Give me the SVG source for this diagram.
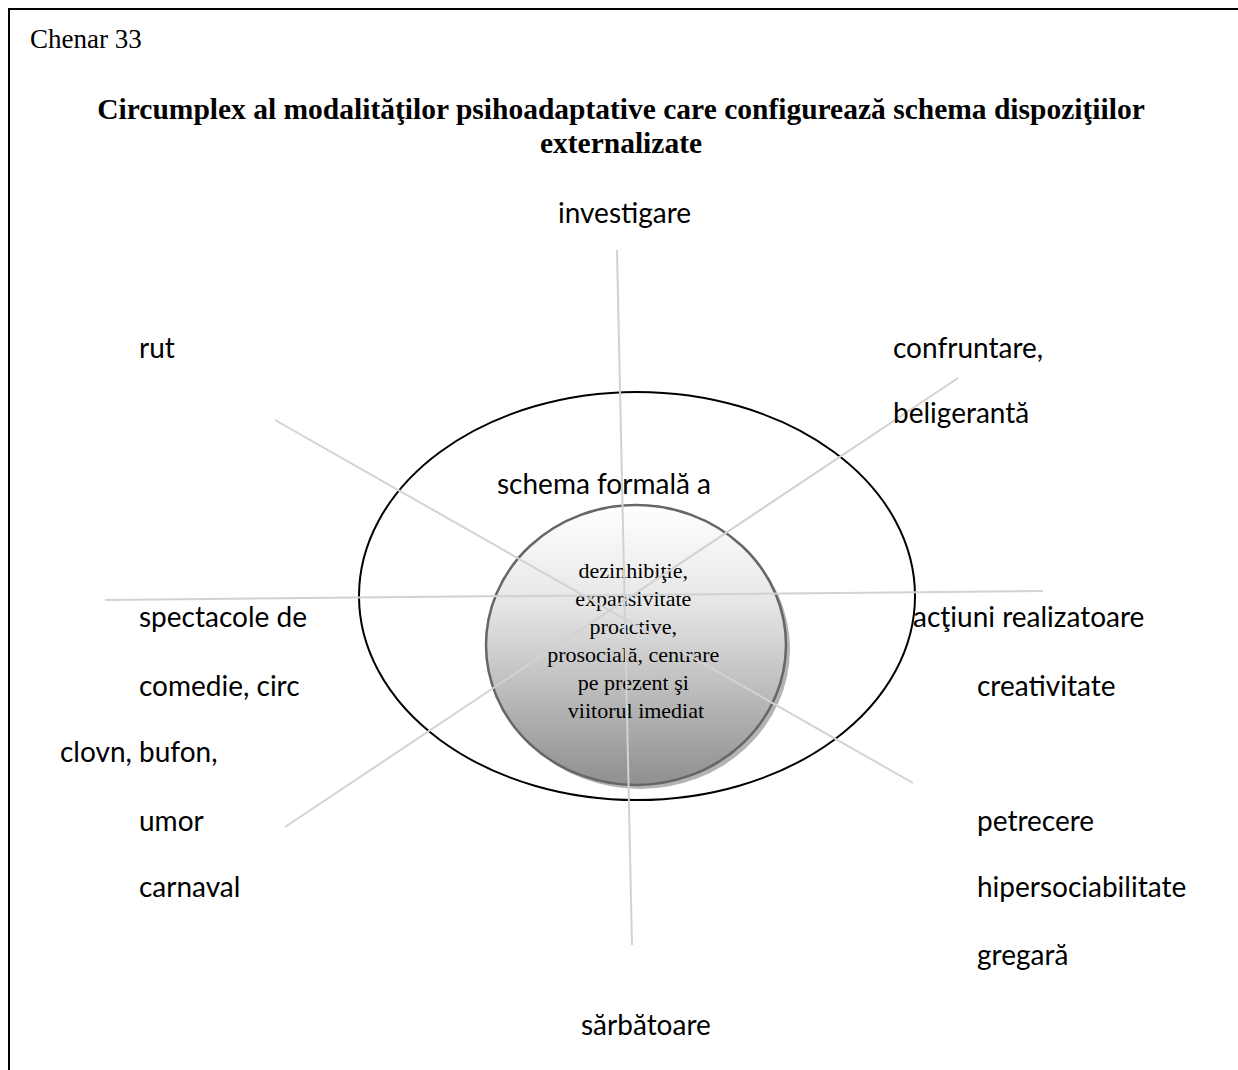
<svg xmlns="http://www.w3.org/2000/svg" width="1238" height="1070" viewBox="0 0 1238 1070">
  <defs>
    <linearGradient id="coreFill" x1="0" y1="0" x2="0" y2="1">
      <stop offset="0" stop-color="#ffffff"/>
      <stop offset="0.35" stop-color="#e6e6e6"/>
      <stop offset="1" stop-color="#8f8f8f"/>
    </linearGradient>
    <style>
      .frame { fill: none; stroke: #000; stroke-width: 2; }
      .ring { fill: none; stroke: #000; stroke-width: 2; }
      .spoke { stroke: #d2d2d2; stroke-width: 2; fill: none; }
      .label { font-family: Lato, "Open Sans", sans-serif; font-size: 28px; fill: #000; }
      .core-text { font-family: "Liberation Serif", "Times New Roman", serif; font-size: 22px; fill: #000; text-anchor: middle; }
      .heading { font-family: "Liberation Serif", "Times New Roman", serif; font-size: 29.5px; font-weight: bold; text-anchor: middle; }
      .caption { font-family: "Liberation Serif", "Times New Roman", serif; font-size: 27px; }
    </style>
  </defs>
  <rect width="1238" height="1070" fill="#fff"/>

  <!-- box frame (right and bottom edges run past the page) -->
  <path class="frame" d="M9,1072 L9,9 L1240,9"/>

  <text class="caption" x="30" y="48">Chenar 33</text>
  <text class="heading" x="621" y="119">Circumplex al modalităţilor psihoadaptative care configurează schema dispoziţiilor</text>
  <text class="heading" x="621" y="153">externalizate</text>

  <g id="outer-ring">
    <ellipse class="ring" cx="637" cy="596" rx="278" ry="204"/>
    <text class="label" x="497" y="494">schema formală a</text>
  </g>

  <g id="core">
    <ellipse cx="640" cy="649" rx="150" ry="140" fill="#b4b4b4"/>
    <ellipse cx="636" cy="645" rx="150" ry="140" fill="url(#coreFill)" stroke="#666" stroke-width="2.5"/>
    <text class="core-text">
      <tspan x="636" y="578">dezinhibiţie,</tspan>
      <tspan x="636" y="606">expansivitate</tspan>
      <tspan x="636" y="634">proactive,</tspan>
      <tspan x="636" y="662">prosocială, centrare</tspan>
      <tspan x="636" y="690">pe prezent şi</tspan>
      <tspan x="636" y="718">viitorul imediat</tspan>
    </text>
  </g>

  <g id="connectors">
    <line class="spoke" x1="617" y1="250" x2="632" y2="945"/>
    <line class="spoke" x1="275" y1="420" x2="913" y2="783"/>
    <line class="spoke" x1="958" y1="378" x2="285" y2="827"/>
    <line class="spoke" x1="105" y1="600" x2="1043" y2="591"/>
  </g>

  <g id="node-investigare"><text class="label" x="558" y="223">investigare</text></g>
  <g id="node-rut"><text class="label" x="139" y="358">rut</text></g>
  <g id="node-confruntare">
    <text class="label" x="893" y="358">confruntare,</text>
    <text class="label" x="893" y="423">beligerantă</text>
  </g>
  <g id="node-actiuni">
    <text class="label" x="913" y="627">acţiuni realizatoare</text>
    <text class="label" x="977" y="696">creativitate</text>
  </g>
  <g id="node-petrecere">
    <text class="label" x="977" y="831">petrecere</text>
    <text class="label" x="977" y="897">hipersociabilitate</text>
    <text class="label" x="977" y="965">gregară</text>
  </g>
  <g id="node-sarbatoare"><text class="label" x="581" y="1035">sărbătoare</text></g>
  <g id="node-spectacole">
    <text class="label" x="139" y="627">spectacole de</text>
    <text class="label" x="139" y="696">comedie, circ</text>
    <text class="label" x="60" y="762">clovn, bufon,</text>
    <text class="label" x="139" y="831">umor</text>
    <text class="label" x="139" y="897">carnaval</text>
  </g>
</svg>
